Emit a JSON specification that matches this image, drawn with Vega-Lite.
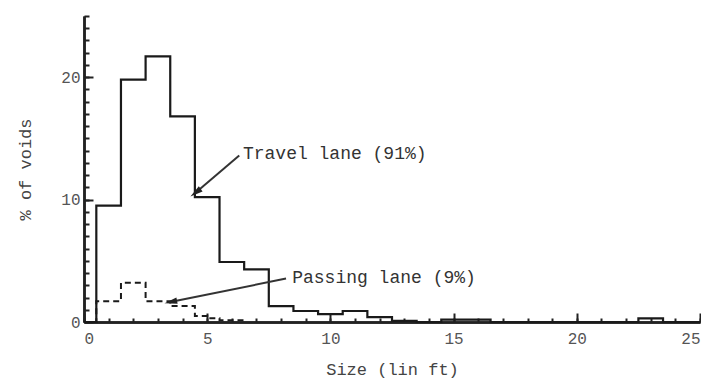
{
  "$schema": "https://vega.github.io/schema/vega-lite/v6.json",
  "autosize": {"type": "none"},
  "padding": {"left": 84, "top": 16, "right": 1, "bottom": 61},
  "width": 616,
  "height": 306,
  "background": "white",
  "config": {
    "view": {"stroke": null},
    "axis": {"labelFont": "Liberation Mono", "titleFont": "Liberation Mono", "labelFontSize": 16, "titleFontSize": 17, "labelColor": "#555", "titleColor": "#444", "titleFontWeight": "normal", "domainColor": "#222", "tickColor": "#222", "domainWidth": 2.5, "tickWidth": 2, "grid": false}
  },
  "datasets": {
    "travel": [
      {"size": 0, "pct": 0}, {"size": 0.5, "pct": 9.5}, {"size": 1.5, "pct": 19.8}, {"size": 2.5, "pct": 21.7},
      {"size": 3.5, "pct": 16.8}, {"size": 4.5, "pct": 10.2}, {"size": 5.5, "pct": 4.9}, {"size": 6.5, "pct": 4.3},
      {"size": 7.5, "pct": 1.3}, {"size": 8.5, "pct": 0.9}, {"size": 9.5, "pct": 0.65}, {"size": 10.5, "pct": 0.9},
      {"size": 11.5, "pct": 0.4}, {"size": 12.5, "pct": 0.1}, {"size": 13.5, "pct": 0}, {"size": 14.5, "pct": 0.2},
      {"size": 16.5, "pct": 0}, {"size": 22.5, "pct": 0.3}, {"size": 23.5, "pct": 0}, {"size": 25, "pct": 0}
    ],
    "passing": [
      {"size": 0, "pct": 0}, {"size": 0.5, "pct": 1.7}, {"size": 1.5, "pct": 3.2}, {"size": 2.5, "pct": 1.7},
      {"size": 3.5, "pct": 1.3}, {"size": 4.5, "pct": 0.5}, {"size": 5.0, "pct": 0.3}, {"size": 5.5, "pct": 0.15},
      {"size": 6.5, "pct": 0}
    ],
    "notes": [
      {"label": "Travel lane (91%)", "x": 6.45, "y": 13.7, "x1": 6.3, "y1": 13.6, "x2": 4.55, "y2": 10.6, "angle": 234},
      {"label": "Passing lane (9%)", "x": 8.45, "y": 3.6, "x1": 8.2, "y1": 3.55, "x2": 3.55, "y2": 1.65, "angle": 259}
    ]
  },
  "resolve": {"axis": {"x": "independent", "y": "independent"}},
  "layer": [
    {
      "data": {"name": "travel"},
      "mark": {"type": "line", "interpolate": "step-after", "color": "#1a1a1a", "strokeWidth": 2.2},
      "encoding": {
        "x": {"field": "size", "type": "quantitative", "scale": {"domain": [0, 25], "nice": false},
              "axis": {"orient": "bottom", "values": [0,1,2,3,4,5,6,7,8,9,10,11,12,13,14,15,16,17,18,19,20,21,22,23,24,25], "tickSize": -4, "labels": false, "title": null}},
        "y": {"field": "pct", "type": "quantitative", "scale": {"domain": [0, 25], "nice": false},
              "axis": {"orient": "left", "values": [0,1,2,3,4,5,6,7,8,9,10,11,12,13,14,15,16,17,18,19,20,21,22,23,24,25], "tickSize": -5, "labels": false, "title": null}}
      }
    },
    {
      "data": {"name": "passing"},
      "mark": {"type": "line", "interpolate": "step-after", "color": "#1a1a1a", "strokeWidth": 2, "strokeDash": [6, 4]},
      "encoding": {
        "x": {"field": "size", "type": "quantitative",
              "axis": {"orient": "bottom", "values": [0, 5, 10, 15, 20, 25], "tickSize": -9, "labelPadding": 17, "title": "Size (lin ft)", "titlePadding": 15}},
        "y": {"field": "pct", "type": "quantitative",
              "axis": {"orient": "left", "values": [0, 10, 20], "tickSize": -9, "labelPadding": 13, "title": "% of voids", "titlePadding": 26}}
      }
    },
    {
      "data": {"name": "notes"},
      "mark": {"type": "rule", "color": "#333", "strokeWidth": 2},
      "encoding": {
        "x": {"field": "x1", "type": "quantitative", "axis": null}, "y": {"field": "y1", "type": "quantitative", "axis": null},
        "x2": {"field": "x2"}, "y2": {"field": "y2"}
      }
    },
    {
      "data": {"name": "notes"},
      "mark": {"type": "point", "shape": "M0,-1L0.45,0.8L-0.45,0.8Z", "filled": true, "color": "#222", "size": 200, "opacity": 1},
      "encoding": {
        "x": {"field": "x2", "type": "quantitative", "axis": null}, "y": {"field": "y2", "type": "quantitative", "axis": null},
        "angle": {"field": "angle", "type": "quantitative", "scale": null}
      }
    },
    {
      "data": {"name": "notes"},
      "mark": {"type": "text", "align": "left", "baseline": "middle", "font": "Liberation Mono", "fontSize": 18, "color": "#333"},
      "encoding": {
        "x": {"field": "x", "type": "quantitative", "axis": null}, "y": {"field": "y", "type": "quantitative", "axis": null},
        "text": {"field": "label"}
      }
    }
  ]
}
